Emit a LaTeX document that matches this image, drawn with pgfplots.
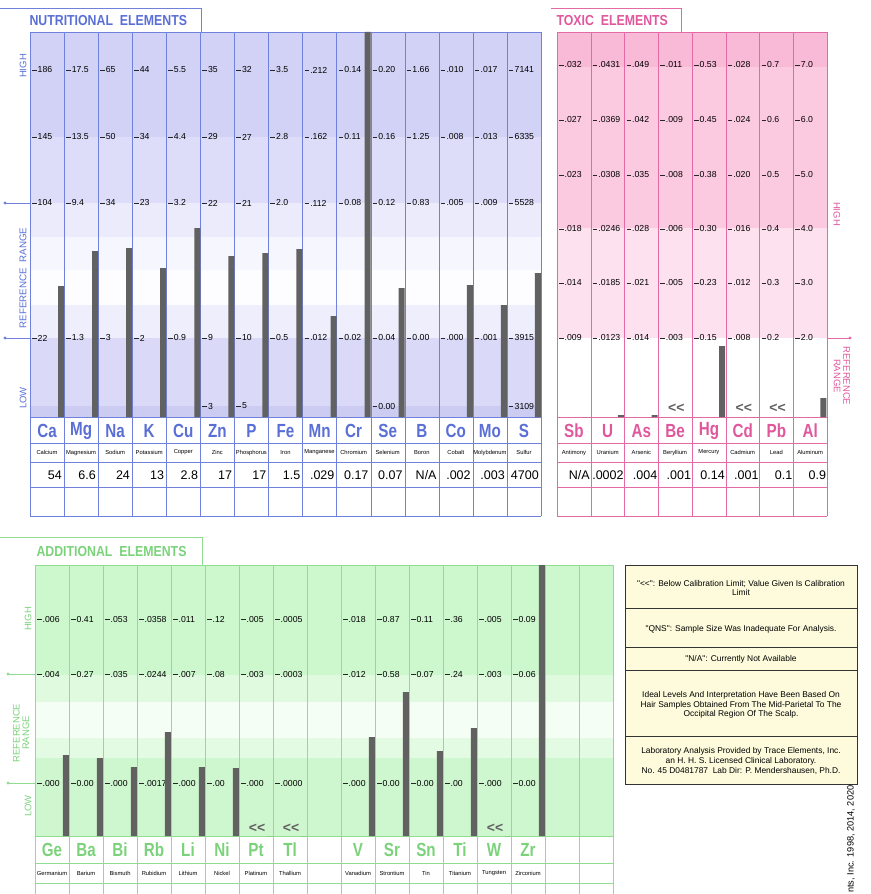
\documentclass[border=0pt]{standalone}
\usepackage{pgfplots}
\pgfplotsset{compat=1.18}
\usepackage{pgfplotstable}
\usepackage{fontspec}
\setmainfont{Liberation Sans}[Ligatures=TeXOff]
\newfontfamily\narrowfont[FakeStretch=0.8,Ligatures=TeXOff]{Liberation Sans}
\newfontfamily\titlefont[FakeStretch=0.85,Ligatures=TeXOff]{Liberation Sans}
\newcommand\fs[1]{\fontsize{#1}{#1}\selectfont}

\definecolor{nline}{HTML}{7080DD}
\definecolor{ntxt}{HTML}{5A6FD6}
\definecolor{tline}{HTML}{E46AA5}
\definecolor{ttxt}{HTML}{E0579C}
\definecolor{aline}{HTML}{90DC90}
\definecolor{atxt}{HTML}{7BD27B}
\definecolor{barc}{HTML}{616161}
\definecolor{cream}{HTML}{FDFBDC}
% band colours
\definecolor{nb1}{HTML}{D2D2F7}
\definecolor{nb2}{HTML}{DDDDF9}
\definecolor{nb3}{HTML}{EBEBFC}
\definecolor{nb4}{HTML}{F6F6FE}
\definecolor{nb5}{HTML}{FDFDFF}
\definecolor{nb6}{HTML}{EEEEFC}
\definecolor{nb7}{HTML}{DADAF8}
\definecolor{nb8}{HTML}{CCCCF3}
\definecolor{tb1}{HTML}{F8BAD6}
\definecolor{tb2}{HTML}{FBCAE0}
\definecolor{tb3}{HTML}{FDE1EE}
\definecolor{ab1}{HTML}{CDF7CD}
\definecolor{ab2}{HTML}{E0FAE0}
\definecolor{ab3}{HTML}{F5FEF5}
\definecolor{ab4}{HTML}{E3FAE3}
\definecolor{ab5}{HTML}{CFF7CF}

% bar heights, px above the panel baseline
\pgfplotstableread{
col h
0 131
1 166
2 169
3 149
4 189
5 161
6 164
7 168
8 101
9 385
10 129
11 0
12 132
13 112
14 144
}\nutri
\pgfplotstableread{
col h
0 0
1 2
2 2
3 0
4 71
5 0
6 0
7 19
}\toxic
\pgfplotstableread{
col h
0 81
1 78
2 69
3 104
4 69
5 68
6 0
7 0
9 99
10 144
11 85
12 108
13 0
14 271
}\addit

\newcommand\tk[3]{%
  \draw[black!85,line width=0.6pt] ({#1+2},#2) -- ({#1+6.5},#2);
  \node[anchor=west,inner sep=0pt,font=\fs{8.7}] at ({#1+7.5},#2) {#3};}

\begin{document}
\begin{tikzpicture}[x=1pt,y=-1pt]
\useasboundingbox (0,0) rectangle (870,894);

% ---------------- nutritional panel ----------------
\fill[nb1] (30,32) rectangle (541,137);
\fill[nb2] (30,137) rectangle (541,203);
\fill[nb3] (30,203) rectangle (541,237);
\fill[nb4] (30,237) rectangle (541,270);
\fill[nb5] (30,270) rectangle (541,305);
\fill[nb6] (30,305) rectangle (541,338);
\fill[nb7] (30,338) rectangle (541,406);
\fill[nb8] (30,406) rectangle (541,417);
\foreach \i in {0,...,15} \draw[nline] ({30+34.07*\i},32) -- ({30+34.07*\i},516);
\foreach \y in {32,417,443,462,487,516} \draw[nline] (30,\y) -- (541,\y);
\draw[nline] (0,8) -- (201,8) -- (201,32);
\node[anchor=west,text=ntxt,font=\titlefont\bfseries\fs{14.5}] at (26,21) {NUTRITIONAL\ \ ELEMENTS};
\foreach \y in {203,338} {\draw[nline] (5,\y) -- (30,\y); \fill[nline] (5,\y) circle (1.6);}
\node[rotate=90,text=ntxt,font=\fs{9.5}] at (23,66) {HIGH};
\node[rotate=90,text=ntxt,font=\fs{9.8}] at (23,278) {REFERENCE\ \ RANGE};
\node[rotate=90,text=ntxt,font=\fs{9.5}] at (23,398) {LOW};

\foreach \a/\b/\c/\d [count=\i from 0] in {186/145/104/22, 17.5/13.5/9.4/1.3, 65/50/34/3,
  44/34/23/2, 5.5/4.4/3.2/0.9, 35/29/22/9, 32/27/21/10, 3.5/2.8/2.0/0.5,
  .212/.162/.112/.012, 0.14/0.11/0.08/0.02, 0.20/0.16/0.12/0.04, 1.66/1.25/0.83/0.00,
  .010/.008/.005/.000, .017/.013/.009/.001, 7141/6335/5528/3915} {
  \pgfmathsetmacro\x{30+34.07*\i}
  \tk{\x}{70}{\a}\tk{\x}{137}{\b}\tk{\x}{203}{\c}\tk{\x}{338}{\d}}
\foreach \i/\v in {5/3, 6/5, 10/0.00, 14/3109} {
  \pgfmathsetmacro\x{30+34.07*\i}\tk{\x}{406}{\v}}

\foreach \s/\n [count=\i from 0] in {Ca/Calcium, Mg/Magnesium, Na/Sodium, K/Potassium,
  Cu/Copper, Zn/Zinc, P/Phosphorus, Fe/Iron, Mn/Manganese, Cr/Chromium, Se/Selenium,
  B/Boron, Co/Cobalt, Mo/Molybdenum, S/Sulfur} {
  \pgfmathsetmacro\x{30+34.07*\i+17}
  \node[text=ntxt,font=\narrowfont\bfseries\fs{19}] at (\x,431) {\s};
  \node[font=\fs{5.8}] at (\x,452.5) {\n};}
\foreach \v [count=\i from 0] in {54,6.6,24,13,2.8,17,17,1.5,.029,0.17,0.07,N/A,.002,.003,4700} {
  \pgfmathsetmacro\x{30+34.07*\i+32}
  \node[anchor=east,inner sep=0pt,font=\fs{12.5}] at (\x,475) {\v};}

\begin{axis}[at={(30pt,-417pt)}, anchor=south west, scale only axis, width=511pt, height=385pt,
  xmin=0, xmax=15, ymin=0, ymax=385, hide axis, clip=false]
\addplot[ybar, bar width=6pt, fill=barc, draw=none] table[x expr=\thisrow{col}+0.91, y=h] {\nutri};
\end{axis}

% ---------------- toxic panel ----------------
\fill[tb1] (557,32) rectangle (827,67);
\fill[tb2] (557,67) rectangle (827,228);
\fill[tb3] (557,228) rectangle (827,338);
\foreach \i in {0,...,8} \draw[tline] ({557+33.75*\i},32) -- ({557+33.75*\i},516);
\foreach \y in {32,417,443,462,487,516} \draw[tline] (557,\y) -- (827,\y);
\draw[tline] (551,8) -- (681,8) -- (681,32);
\node[anchor=west,text=ttxt,font=\titlefont\bfseries\fs{14.5}] at (553,21) {TOXIC\ \ ELEMENTS};
\draw[tline] (827,338) -- (850,338); \fill[tline] (850,338) circle (1.6);
\node[rotate=-90,text=ttxt,font=\fs{9.5}] at (837,214) {HIGH};
\node[rotate=-90,text=ttxt,font=\fs{9.5},align=center,inner sep=0pt] at (842,376) {REFERENCE\\RANGE};

\foreach \a/\b/\c/\d/\e/\f [count=\i from 0] in {.032/.027/.023/.018/.014/.009,
  .0431/.0369/.0308/.0246/.0185/.0123, .049/.042/.035/.028/.021/.014,
  .011/.009/.008/.006/.005/.003, 0.53/0.45/0.38/0.30/0.23/0.15,
  .028/.024/.020/.016/.012/.008, 0.7/0.6/0.5/0.4/0.3/0.2, 7.0/6.0/5.0/4.0/3.0/2.0} {
  \pgfmathsetmacro\x{557+33.75*\i}
  \tk{\x}{65}{\a}\tk{\x}{120}{\b}\tk{\x}{175}{\c}\tk{\x}{229}{\d}\tk{\x}{283}{\e}\tk{\x}{338}{\f}}
\foreach \s/\n [count=\i from 0] in {Sb/Antimony, U/Uranium, As/Arsenic, Be/Beryllium,
  Hg/Mercury, Cd/Cadmium, Pb/Lead, Al/Aluminum} {
  \pgfmathsetmacro\x{557+33.75*\i+16.9}
  \node[text=ttxt,font=\narrowfont\bfseries\fs{19}] at (\x,431) {\s};
  \node[font=\fs{5.8}] at (\x,452.5) {\n};}
\foreach \v [count=\i from 0] in {N/A,.0002,.004,.001,0.14,.001,0.1,0.9} {
  \pgfmathsetmacro\x{557+33.75*\i+33}
  \node[anchor=east,inner sep=0pt,font=\fs{12.5}] at (\x,475) {\v};}
\foreach \i in {3,5,6} {
  \pgfmathsetmacro\x{557+33.75*\i+18}
  \node[text=barc,font=\bfseries\fs{14}] at (\x,408) {<<};}

\begin{axis}[at={(557pt,-417pt)}, anchor=south west, scale only axis, width=270pt, height=385pt,
  xmin=0, xmax=8, ymin=0, ymax=385, hide axis, clip=false]
\addplot[ybar, bar width=6pt, fill=barc, draw=none] table[x expr=\thisrow{col}+0.89, y=h] {\toxic};
\end{axis}

% ---------------- additional panel ----------------
\fill[ab1] (35,565) rectangle (613,675);
\fill[ab2] (35,675) rectangle (613,702);
\fill[ab3] (35,702) rectangle (613,738);
\fill[ab4] (35,738) rectangle (613,758);
\fill[ab5] (35,758) rectangle (613,836);
\foreach \i in {0,...,17} \draw[aline] ({35+34*\i},565) -- ({35+34*\i},900);
\foreach \y in {565,836,863,883} \draw[aline] (35,\y) -- (613,\y);
\draw[aline] (0,537) -- (202,537) -- (202,565);
\node[anchor=west,text=atxt,font=\titlefont\bfseries\fs{14.5}] at (33,552) {ADDITIONAL\ \ ELEMENTS};
\foreach \y in {674,783} {\draw[aline] (8,\y) -- (35,\y); \fill[aline] (8,\y) circle (1.6);}
\node[rotate=90,text=atxt,font=\fs{9.5}] at (28,619) {HIGH};
\node[rotate=90,text=atxt,font=\fs{9.5},align=center,inner sep=0pt] at (21,733) {REFERENCE\\RANGE};
\node[rotate=90,text=atxt,font=\fs{9.5}] at (28,806) {LOW};

\foreach \i/\a/\b/\c in {0/.006/.004/.000, 1/0.41/0.27/0.00, 2/.053/.035/.000,
  3/.0358/.0244/.0017, 4/.011/.007/.000, 5/.12/.08/.00, 6/.005/.003/.000,
  7/.0005/.0003/.0000, 9/.018/.012/.000, 10/0.87/0.58/0.00, 11/0.11/0.07/0.00,
  12/.36/.24/.00, 13/.005/.003/.000, 14/0.09/0.06/0.00} {
  \pgfmathsetmacro\x{35+34*\i}
  \tk{\x}{619}{\a}\tk{\x}{674}{\b}\tk{\x}{783}{\c}}
\foreach \i/\s/\n in {0/Ge/Germanium, 1/Ba/Barium, 2/Bi/Bismuth, 3/Rb/Rubidium,
  4/Li/Lithium, 5/Ni/Nickel, 6/Pt/Platinum, 7/Tl/Thallium, 9/V/Vanadium,
  10/Sr/Strontium, 11/Sn/Tin, 12/Ti/Titanium, 13/W/Tungsten, 14/Zr/Zirconium} {
  \pgfmathsetmacro\x{35+34*\i+17}
  \node[text=atxt,font=\narrowfont\bfseries\fs{19}] at (\x,850) {\s};
  \node[font=\fs{5.8}] at (\x,873) {\n};}
\foreach \i in {6,7,13} {
  \pgfmathsetmacro\x{35+34*\i+18}
  \node[text=barc,font=\bfseries\fs{14}] at (\x,828) {<<};}

\begin{axis}[at={(35pt,-836pt)}, anchor=south west, scale only axis, width=578pt, height=271pt,
  xmin=0, xmax=17, ymin=0, ymax=271, hide axis, clip=false]
\addplot[ybar, bar width=6pt, fill=barc, draw=none] table[x expr=\thisrow{col}+0.91, y=h] {\addit};
\end{axis}

% ---------------- notes box ----------------
\draw[fill=cream,draw=black!80,line width=0.8pt] (625,565) rectangle (857,784);
\foreach \y in {608,647,670,736} \draw[black!80,line width=0.8pt] (625,\y) -- (857,\y);
\begin{scope}[every node/.style={font=\fs{8.4},align=center,inner sep=0pt}]
\node at (741,588) {"<<": Below Calibration Limit; Value Given Is Calibration\\[1.4pt]Limit};
\node at (741,629) {"QNS": Sample Size Was Inadequate For Analysis.};
\node at (741,659) {"N/A": Currently Not Available};
\node at (741,705) {Ideal Levels And Interpretation Have Been Based On\\[1.4pt]Hair Samples Obtained From The Mid-Parietal To The\\[1.4pt]Occipital Region Of The Scalp.};
\node at (741,761) {Laboratory Analysis Provided by Trace Elements, Inc.\\[1.4pt]an H. H. S. Licensed Clinical Laboratory.\\[1.4pt]No. 45 D0481787\ \ Lab Dir: P. Mendershausen, Ph.D.};
\end{scope}
\node[rotate=90,anchor=west,inner sep=0pt,font=\fs{9.2}] at (851,893) {nts, Inc. 1998, 2014, 2020};
\end{tikzpicture}
\end{document}
